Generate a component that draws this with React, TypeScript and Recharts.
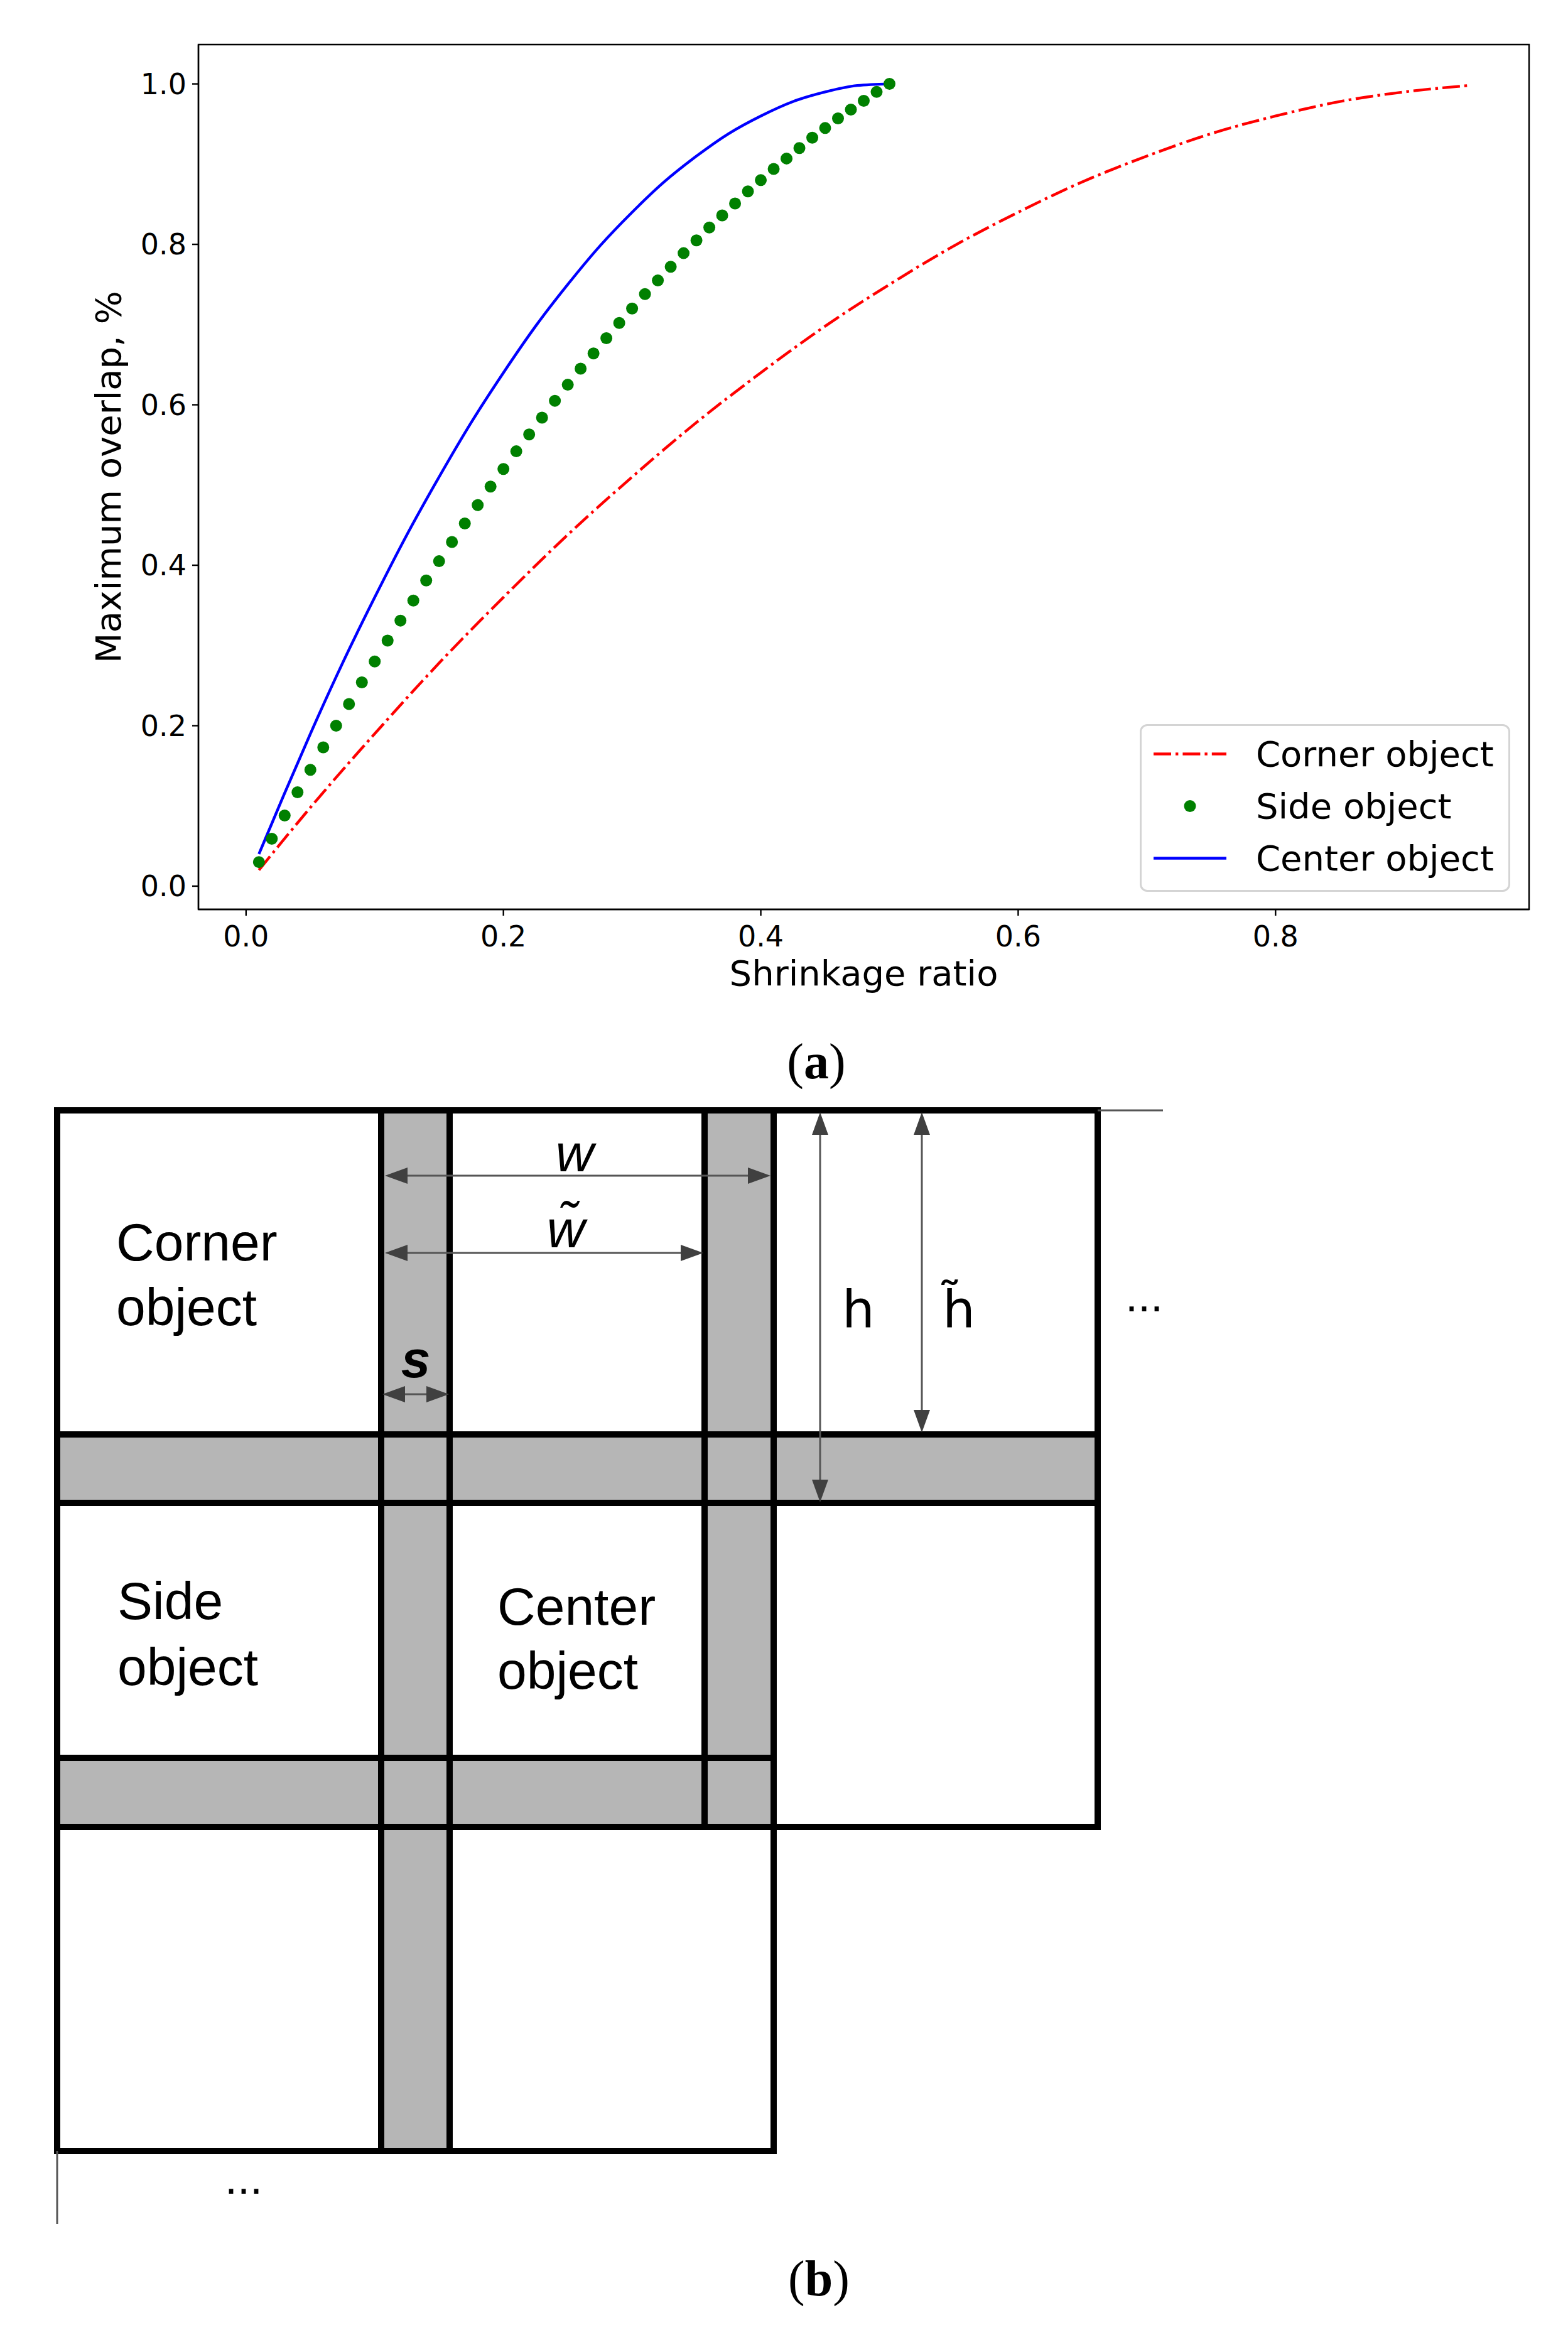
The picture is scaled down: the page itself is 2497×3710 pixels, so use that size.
import React from 'react';
import {
  ComposedChart,
  Line,
  Scatter,
  XAxis,
  YAxis,
  ReferenceArea,
  ReferenceLine,
  ReferenceDot,
  Legend,
  Label,
} from 'recharts';

// ---------------- Panel (a) data ----------------
const cornerX = [0.01, 0.05, 0.1, 0.15, 0.2, 0.25, 0.3, 0.35, 0.4, 0.45, 0.5, 0.55, 0.6, 0.65, 0.7, 0.75, 0.8, 0.85, 0.9, 0.95];
const cornerY = [0.02, 0.098, 0.19, 0.278, 0.36, 0.438, 0.51, 0.578, 0.64, 0.698, 0.75, 0.798, 0.84, 0.878, 0.91, 0.938, 0.96, 0.978, 0.99, 0.998];

const sideX = [
  0.01, 0.02, 0.03, 0.04, 0.05, 0.06, 0.07, 0.08, 0.09, 0.1,
  0.11, 0.12, 0.13, 0.14, 0.15, 0.16, 0.17, 0.18, 0.19, 0.2,
  0.21, 0.22, 0.23, 0.24, 0.25, 0.26, 0.27, 0.28, 0.29, 0.3,
  0.31, 0.32, 0.33, 0.34, 0.35, 0.36, 0.37, 0.38, 0.39, 0.4,
  0.41, 0.42, 0.43, 0.44, 0.45, 0.46, 0.47, 0.48, 0.49, 0.5,
];
const sideY = [
  0.03, 0.059, 0.088, 0.117, 0.145, 0.173, 0.2, 0.227, 0.254, 0.28,
  0.306, 0.331, 0.356, 0.381, 0.405, 0.429, 0.452, 0.475, 0.498, 0.52,
  0.542, 0.563, 0.584, 0.605, 0.625, 0.645, 0.664, 0.683, 0.702, 0.72,
  0.738, 0.755, 0.772, 0.789, 0.805, 0.821, 0.836, 0.851, 0.866, 0.88,
  0.894, 0.907, 0.92, 0.933, 0.945, 0.957, 0.968, 0.979, 0.99, 1.0,
];

const centerX = [0.01, 0.02, 0.03, 0.05, 0.075, 0.1, 0.125, 0.15, 0.175, 0.2, 0.225, 0.25, 0.275, 0.3, 0.325, 0.35, 0.375, 0.4, 0.425, 0.45, 0.475, 0.5];
const centerY = [0.04, 0.078, 0.116, 0.19, 0.278, 0.36, 0.438, 0.51, 0.578, 0.64, 0.698, 0.75, 0.798, 0.84, 0.878, 0.91, 0.938, 0.96, 0.978, 0.99, 0.998, 1.0];

const xTicks = [0, 0.2, 0.4, 0.6, 0.8];
const yTicks = [0, 0.2, 0.4, 0.6, 0.8, 1.0];
const xDomain = [-0.037, 0.997];
const yDomain = [-0.029, 1.049];

const seriesNames = ['Corner object', 'Side object', 'Center object'];
const seriesColors = ['#ff0000', '#008000', '#0000ff'];
const xTitle = 'Shrinkage ratio';
const yTitle = 'Maximum overlap, %';

const cornerData = cornerX.map((x, i) => ({ x, y: cornerY[i] }));
const sideData = sideX.map((x, i) => ({ x, y: sideY[i] }));
const centerData = centerX.map((x, i) => ({ x, y: centerY[i] }));

// ---------------- Panel (b) schematic data (diagram units) ----------------
const gridEdges = [0, 5.16, 6.25, 10.31, 11.41, 16.57];
// [col0, col1, row0, row1] as indices into gridEdges
const whiteCells = [
  [0, 1, 0, 1], [2, 3, 0, 1], [4, 5, 0, 1],
  [0, 1, 2, 3], [2, 3, 2, 3], [4, 5, 2, 4],
  [0, 1, 4, 5], [2, 4, 4, 5],
];
const grayBands = [
  [0, 5, 1, 2], [0, 4, 3, 4],
  [1, 2, 0, 5], [3, 4, 0, 4],
];
const extensionLines = [
  [16.57, 0, 17.61, 0],
  [0, 16.57, 0, 17.73],
];
const dimensionArrows = [
  [5.22, 1.04, 11.36, 1.04],
  [5.22, 2.27, 10.29, 2.27],
  [5.18, 4.52, 6.24, 4.52],
  [12.15, 0.03, 12.15, 6.24],
  [13.77, 0.03, 13.77, 5.13],
];
const diagramLabels = [
  { text: 'Corner', x: 0.94, y: 2.39, kind: 'cell' },
  { text: 'object', x: 0.94, y: 3.42, kind: 'cell' },
  { text: 'Side', x: 0.96, y: 8.1, kind: 'cell' },
  { text: 'object', x: 0.96, y: 9.15, kind: 'cell' },
  { text: 'Center', x: 7.01, y: 8.19, kind: 'cell' },
  { text: 'object', x: 7.01, y: 9.21, kind: 'cell' },
  { text: 'w', x: 8.24, y: 0.97, kind: 'italic' },
  { text: 'w\u0303', x: 8.1, y: 2.18, kind: 'italic' },
  { text: 's', x: 5.71, y: 4.25, kind: 'bold' },
  { text: 'h', x: 12.76, y: 3.45, kind: 'plain' },
  { text: 'h\u0303', x: 14.36, y: 3.45, kind: 'plain' },
  { text: '...', x: 17.31, y: 3.2, kind: 'dots' },
  { text: '...', x: 2.97, y: 17.25, kind: 'dots' },
];
const panelTags = [
  { open: '(', letter: 'a', close: ')' },
  { open: '(', letter: 'b', close: ')' },
];
const diagramXDomain = [-0.91, 24.06];
const diagramYDomain = [-0.28, 19.42];
const diagramAnchors = [{ x: 0, y: 0 }, { x: 16.57, y: 16.57 }];

// ---------------- styles ----------------
const SANS = 'DejaVu Sans';
const DIAG = 'Liberation Sans';
const SERIF = 'Liberation Serif';
const DASH = '28 7 4.4 7';
const GRAY = '#b6b6b6';

const labelStyles: Record<string, any> = {
  cell: { fontSize: 84, textAnchor: 'start', fontFamily: DIAG },
  italic: { fontSize: 84, fontStyle: 'italic', textAnchor: 'middle', fontFamily: DIAG },
  bold: { fontSize: 84, fontStyle: 'italic', fontWeight: 'bold', textAnchor: 'middle', fontFamily: DIAG },
  plain: { fontSize: 82, textAnchor: 'middle', fontFamily: SANS },
  dots: { fontSize: 72, textAnchor: 'middle', fontFamily: DIAG },
};

const fmt = (v: number) => v.toFixed(1);

function LegendBox() {
  return (
    <div
      style={{
        boxSizing: 'border-box',
        width: 590,
        height: 267,
        border: '3px solid #d4d4d4',
        borderRadius: 12,
        background: 'rgba(255,255,255,0.85)',
        position: 'relative',
        fontFamily: SANS,
        fontSize: 56,
        color: '#000',
      }}
    >
      {seriesNames.map((name, i) => (
        <div
          key={name}
          style={{
            position: 'absolute',
            left: 0,
            top: 3 + i * 83,
            height: 83,
            display: 'flex',
            alignItems: 'center',
            whiteSpace: 'nowrap',
          }}
        >
          <svg width={182} height={83} style={{ display: 'block' }}>
            {i === 1 ? (
              <circle cx={77} cy={41.5} r={9.5} fill={seriesColors[i]} />
            ) : (
              <line
                x1={19}
                x2={135}
                y1={41.5}
                y2={41.5}
                stroke={seriesColors[i]}
                strokeWidth={4.4}
                strokeDasharray={i === 0 ? DASH : undefined}
              />
            )}
          </svg>
          <span style={{ lineHeight: '83px' }}>{name}</span>
        </div>
      ))}
    </div>
  );
}

function YTitle(props: any) {
  const vb = props.viewBox || { x: 116, y: 71, width: 200, height: 1377 };
  const cx = vb.x + vb.width - 124;
  const cy = vb.y + vb.height / 2;
  return (
    <text
      x={cx}
      y={cy}
      transform={`rotate(-90 ${cx} ${cy})`}
      textAnchor="middle"
      fontFamily={SANS}
      fontSize={56}
      fill="#000"
    >
      {yTitle}
    </text>
  );
}

function XTitle(props: any) {
  const vb = props.viewBox || { x: 316, y: 1448, width: 2119, height: 120 };
  const cx = vb.x + vb.width / 2;
  return (
    <g>
      <text x={cx} y={vb.y + 121} textAnchor="middle" fontFamily={SANS} fontSize={56} fill="#000">
        {xTitle}
      </text>
      <text x={1300} y={vb.y + 269} textAnchor="middle" fontFamily={SERIF} fontSize={80} fill="#000">
        {panelTags[0].open}
        <tspan fontWeight="bold">{panelTags[0].letter}</tspan>
        {panelTags[0].close}
      </text>
    </g>
  );
}

function PanelA() {
  return (
    <ComposedChart width={2497} height={1740} margin={{ top: 71, right: 62, bottom: 172, left: 116 }}>
      <XAxis
        type="number"
        dataKey="x"
        domain={xDomain}
        ticks={xTicks}
        interval={0}
        allowDataOverflow
        height={120}
        tickFormatter={fmt}
        axisLine={{ stroke: '#000', strokeWidth: 2.4 }}
        tickLine={{ stroke: '#000', strokeWidth: 2.4 }}
        tickSize={10}
        tickMargin={16}
        tick={{ fill: '#000', fontSize: 46, fontFamily: SANS }}
      >
        <Label content={XTitle} />
      </XAxis>
      <YAxis
        type="number"
        dataKey="y"
        domain={yDomain}
        ticks={yTicks}
        interval={0}
        allowDataOverflow
        width={200}
        tickFormatter={fmt}
        axisLine={{ stroke: '#000', strokeWidth: 2.4 }}
        tickLine={{ stroke: '#000', strokeWidth: 2.4 }}
        tickSize={10}
        tickMargin={9}
        tick={{ fill: '#000', fontSize: 46, fontFamily: SANS }}
      >
        <Label content={YTitle} />
      </YAxis>
      <ReferenceArea
        x1={xDomain[0]}
        x2={xDomain[1]}
        y1={yDomain[0]}
        y2={yDomain[1]}
        fill="none"
        stroke="#000"
        strokeWidth={2.4}
        ifOverflow="visible"
      />
      <Line
        data={cornerData}
        dataKey="y"
        name={seriesNames[0]}
        type="monotone"
        stroke={seriesColors[0]}
        strokeWidth={4.4}
        strokeDasharray={DASH}
        dot={false}
        activeDot={false}
        isAnimationActive={false}
      />
      <Scatter
        data={sideData}
        dataKey="y"
        name={seriesNames[1]}
        fill={seriesColors[1]}
        isAnimationActive={false}
        shape={(p: any) => <circle cx={p.cx} cy={p.cy} r={9.5} fill={seriesColors[1]} />}
      />
      <Line
        data={centerData}
        dataKey="y"
        name={seriesNames[2]}
        type="monotone"
        stroke={seriesColors[2]}
        strokeWidth={4.4}
        dot={false}
        activeDot={false}
        isAnimationActive={false}
      />
      <Legend
        layout="vertical"
        align="center"
        verticalAlign="middle"
        content={LegendBox}
        wrapperStyle={{ left: 1815, top: 1153, width: 590, height: 267 }}
      />
    </ComposedChart>
  );
}

const HEAD_L = 36;
const HEAD_W = 13;
function ArrowShape(props: any) {
  const { x1, y1, x2, y2 } = props;
  if (![x1, y1, x2, y2].every((v) => typeof v === 'number' && isFinite(v))) return <g />;
  const dx = x2 - x1;
  const dy = y2 - y1;
  const len = Math.hypot(dx, dy) || 1;
  const ux = dx / len;
  const uy = dy / len;
  const head = (tx: number, ty: number, sx: number, sy: number) => {
    const bx = tx - sx * HEAD_L;
    const by = ty - sy * HEAD_L;
    return `${tx},${ty} ${bx - sy * HEAD_W},${by + sx * HEAD_W} ${bx + sy * HEAD_W},${by - sx * HEAD_W}`;
  };
  return (
    <g>
      <line
        x1={x1 + ux * HEAD_L * 0.6}
        y1={y1 + uy * HEAD_L * 0.6}
        x2={x2 - ux * HEAD_L * 0.6}
        y2={y2 - uy * HEAD_L * 0.6}
        stroke="#555"
        strokeWidth={3}
      />
      <polygon points={head(x2, y2, ux, uy)} fill="#404040" />
      <polygon points={head(x1, y1, -ux, -uy)} fill="#404040" />
    </g>
  );
}

function makeTextContent(l: { text: string; kind: string }) {
  return (props: any) => {
    const vb = props.viewBox || { x: 0, y: 0, width: 0, height: 0 };
    const st = labelStyles[l.kind];
    const x = vb.x + (vb.width || 0) / 2;
    const y = vb.y + (vb.height || 0) / 2;
    return (
      <text x={x} y={y} fill="#000" {...st}>
        {l.text}
      </text>
    );
  };
}

function TagContent(props: any) {
  const vb = props.viewBox || { x: 0, y: 0, width: 0, height: 0 };
  const t = panelTags[1];
  return (
    <text
      x={vb.x + (vb.width || 0) / 2}
      y={vb.y + (vb.height || 0) / 2}
      textAnchor="middle"
      fontFamily={SERIF}
      fontSize={80}
      fill="#000"
    >
      {t.open}
      <tspan fontWeight="bold">{t.letter}</tspan>
      {t.close}
    </text>
  );
}

function PanelB() {
  const rect = (c: number[], key: string, fill: string, stroke: string) => (
    <ReferenceArea
      key={key}
      x1={gridEdges[c[0]]}
      x2={gridEdges[c[1]]}
      y1={gridEdges[c[2]]}
      y2={gridEdges[c[3]]}
      fill={fill}
      fillOpacity={1}
      stroke={stroke}
      strokeWidth={stroke === 'none' ? 0 : 10}
      ifOverflow="visible"
    />
  );
  return (
    <ComposedChart width={2497} height={1970} margin={{ top: 0, right: 0, bottom: 0, left: 0 }}>
      <XAxis hide type="number" dataKey="x" domain={diagramXDomain} allowDataOverflow />
      <YAxis hide type="number" dataKey="y" domain={diagramYDomain} reversed allowDataOverflow />
      <Scatter data={diagramAnchors} fill="none" isAnimationActive={false} shape={() => <g />} />
      {whiteCells.map((c, i) => rect(c, `w${i}`, '#ffffff', 'none'))}
      {grayBands.map((c, i) => rect(c, `g${i}`, GRAY, 'none'))}
      {whiteCells.map((c, i) => rect(c, `wo${i}`, 'none', '#000'))}
      {grayBands.map((c, i) => rect(c, `go${i}`, 'none', '#000'))}
      {extensionLines.map((s, i) => (
        <ReferenceLine
          key={`e${i}`}
          segment={[{ x: s[0], y: s[1] }, { x: s[2], y: s[3] }]}
          stroke="#555"
          strokeWidth={3}
          ifOverflow="visible"
        />
      ))}
      {dimensionArrows.map((s, i) => (
        <ReferenceLine
          key={`a${i}`}
          segment={[{ x: s[0], y: s[1] }, { x: s[2], y: s[3] }]}
          stroke="#555"
          strokeWidth={3}
          ifOverflow="visible"
          shape={ArrowShape}
        />
      ))}
      {diagramLabels.map((l, i) => (
        <ReferenceDot key={`t${i}`} x={l.x} y={l.y} r={0} fill="none" stroke="none" ifOverflow="visible">
          <Label content={makeTextContent(l)} />
        </ReferenceDot>
      ))}
      <ReferenceDot x={12.13} y={18.87} r={0} fill="none" stroke="none" ifOverflow="visible">
        <Label content={TagContent} />
      </ReferenceDot>
    </ComposedChart>
  );
}

export default function App() {
  return (
    <div style={{ position: 'absolute', left: 0, top: 0, width: 2497, height: 3710, background: '#fff' }}>
      <div style={{ position: 'absolute', left: 0, top: 0 }}>
        <PanelA />
      </div>
      <div style={{ position: 'absolute', left: 0, top: 1740 }}>
        <PanelB />
      </div>
    </div>
  );
}
